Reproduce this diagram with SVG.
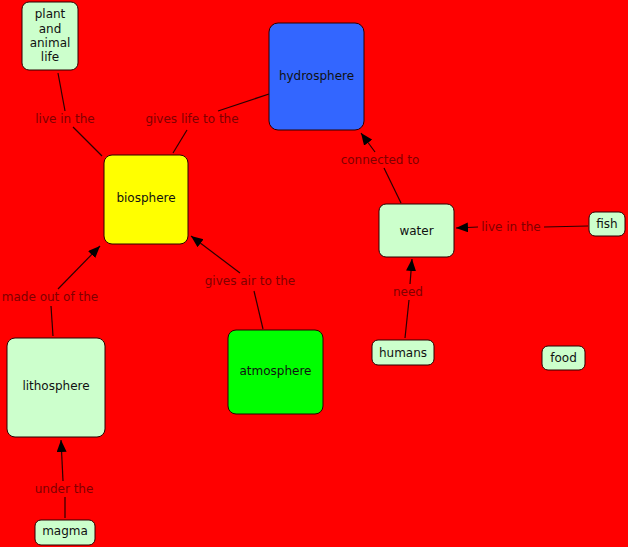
<svg xmlns="http://www.w3.org/2000/svg" width="628" height="547" viewBox="0 0 628 547">
<defs>
<style>
.n{stroke:#2a0000;stroke-width:1}
.g{fill:#ccffcc}
.t{font-family:"DejaVu Sans","Verdana",sans-serif;font-size:12px;fill:#111;text-anchor:middle}
.l{font-family:"DejaVu Sans","Verdana",sans-serif;font-size:12px;fill:#800000;text-anchor:middle}
.c{stroke:#2a0000;stroke-width:1.2;fill:none}
</style>
<marker id="ah" markerUnits="userSpaceOnUse" markerWidth="13" markerHeight="11" refX="12" refY="5" orient="auto">
<path d="M0,0 L12,5 L0,10 z" fill="#000"/>
</marker>
</defs>
<rect width="628" height="547" fill="#ff0000"/>
<g id="connectors">
<line class="c" x1="58" y1="73" x2="65" y2="111"/>
<line class="c" x1="73" y1="127" x2="102" y2="156"/>
<line class="c" x1="269" y1="94" x2="218" y2="111"/>
<line class="c" x1="187" y1="130" x2="173" y2="153"/>
<line class="c" x1="53" y1="336" x2="51" y2="306"/>
<line class="c" x1="58" y1="289" x2="100" y2="246" marker-end="url(#ah)"/>
<line class="c" x1="263" y1="329" x2="254" y2="291"/>
<line class="c" x1="240" y1="273" x2="191" y2="236" marker-end="url(#ah)"/>
<line class="c" x1="401" y1="203" x2="384" y2="168"/>
<line class="c" x1="375" y1="152" x2="361" y2="133" marker-end="url(#ah)"/>
<line class="c" x1="588" y1="226" x2="544" y2="227"/>
<line class="c" x1="478" y1="227" x2="456" y2="228" marker-end="url(#ah)"/>
<line class="c" x1="405" y1="338" x2="409" y2="300"/>
<line class="c" x1="410" y1="284" x2="412" y2="259" marker-end="url(#ah)"/>
<line class="c" x1="65" y1="518" x2="65" y2="497"/>
<line class="c" x1="63" y1="481" x2="61" y2="440" marker-end="url(#ah)"/>
<text class="l" x="65" y="123">live in the</text>
<text class="l" x="192" y="123">gives life to the</text>
<text class="l" x="380" y="164">connected to</text>
<text class="l" x="511" y="231">live in the</text>
<text class="l" x="50" y="301">made out of the</text>
<text class="l" x="250" y="285">gives air to the</text>
<text class="l" x="64" y="493">under the</text>
<text class="l" x="408" y="296">need</text>
</g>
<g id="plant">
<rect class="n g" x="22" y="2" width="56" height="68" rx="7"/>
<text class="t" x="50" y="18">plant</text>
<text class="t" x="50" y="33">and</text>
<text class="t" x="50" y="47">animal</text>
<text class="t" x="50" y="61">life</text>
</g>
<g id="biosphere">
<rect class="n" x="104" y="155" width="84" height="89" rx="8" fill="#ffff00"/>
<text class="t" x="146" y="202">biosphere</text>
</g>
<g id="hydrosphere">
<rect class="n" x="269" y="23" width="95" height="107" rx="9" fill="#3366ff"/>
<text class="t" x="316.5" y="80">hydrosphere</text>
</g>
<g id="water">
<rect class="n g" x="379" y="204" width="75" height="53" rx="7"/>
<text class="t" x="416.5" y="235">water</text>
</g>
<g id="fish">
<rect class="n g" x="589" y="212" width="36" height="24" rx="6"/>
<text class="t" x="607" y="228">fish</text>
</g>
<g id="lithosphere">
<rect class="n g" x="7" y="338" width="98" height="99" rx="8"/>
<text class="t" x="56" y="390">lithosphere</text>
</g>
<g id="atmosphere">
<rect class="n" x="228" y="330" width="95" height="84" rx="8" fill="#00ff00"/>
<text class="t" x="275.5" y="375">atmosphere</text>
</g>
<g id="magma">
<rect class="n g" x="35" y="520" width="60" height="25" rx="6"/>
<text class="t" x="65" y="535">magma</text>
</g>
<g id="humans">
<rect class="n g" x="372" y="340" width="62" height="25" rx="6"/>
<text class="t" x="403" y="357">humans</text>
</g>
<g id="food">
<rect class="n g" x="542" y="346" width="43" height="24" rx="6"/>
<text class="t" x="563.5" y="362">food</text>
</g>
</svg>
